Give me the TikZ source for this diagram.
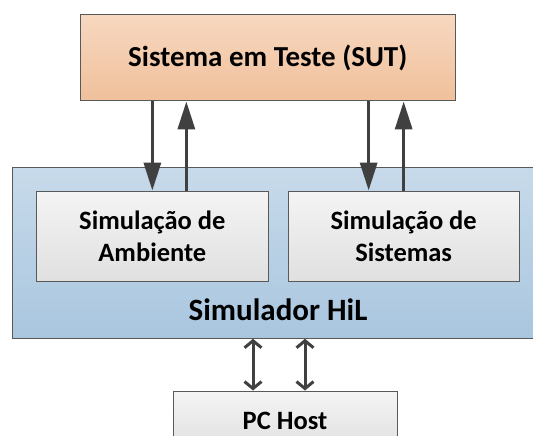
\documentclass[tikz,border=0pt]{standalone}
\usepackage{fontspec}
\setmainfont{Carlito}
\usetikzlibrary{arrows.meta}
\definecolor{sutA}{HTML}{F7D8C0}
\definecolor{sutB}{HTML}{F0C09B}
\definecolor{hilA}{HTML}{C7DAEA}
\definecolor{hilB}{HTML}{A9C6DF}
\definecolor{grayA}{HTML}{F4F4F4}
\definecolor{grayB}{HTML}{E0E0E0}
\definecolor{boxline}{HTML}{595959}
\definecolor{arrowgray}{HTML}{404040}
\begin{document}
\begin{tikzpicture}[x=1pt,y=-1pt,
    box/.style={draw=boxline, line width=1pt, inner sep=0pt, align=center,
      font=\bfseries\fontsize{26.5}{31.7}\selectfont},
    graybox/.style={box, top color=grayA, bottom color=grayB},
    big/.style={draw=arrowgray, line width=3.3pt,
      -{Triangle[length=28pt,width=17pt]}},
    dbl/.style={draw=arrowgray, line width=3pt,
      {Straight Barb[length=7pt,width=17pt]}-{Straight Barb[length=7pt,width=17pt]}}]
  \useasboundingbox (0,0) rectangle (533,436);
  \node[box, top color=sutA, bottom color=sutB, minimum width=374.4pt,
    minimum height=86.7pt, font=\bfseries\fontsize{29}{32}\selectfont]
    (sut) at (267.8,57.6) {Sistema em Teste (SUT)};
  \node[box, top color=hilA, bottom color=hilB, minimum width=540pt,
    minimum height=171pt] (hil) at (282.5,252.8) {};
  \node[graybox, minimum width=232.1pt, minimum height=90.7pt]
    (amb) at (152.35,236.35) {Simulação de\\Ambiente};
  \node[graybox, minimum width=231.3pt, minimum height=90.7pt]
    (sis) at (403.65,236.35) {Simulação de\\Sistemas};
  \node[anchor=base, inner sep=0pt, font=\bfseries\fontsize{31}{34}\selectfont]
    (hiltxt) at (278,320) {Simulador HiL};
  \node[graybox, minimum width=224pt, minimum height=59pt]
    (host) at (285,420.5) {PC Host};
  % ligacoes SUT <-> simulador
  \draw[big] (amb.north |- sut.south) -- (amb.north);
  \draw[big] ([xshift=34pt]amb.north) -- ([xshift=34pt]amb.north |- sut.south);
  \draw[big] ([xshift=-35pt]sis.north |- sut.south) -- ([xshift=-35pt]sis.north);
  \draw[big] (sis.north) -- (sis.north |- sut.south);
  % ligacoes host <-> simulador
  \draw[dbl] ([xshift=-32pt]host.north) -- ([xshift=-32pt]host.north |- hil.south);
  \draw[dbl] ([xshift=20pt]host.north) -- ([xshift=20pt]host.north |- hil.south);
\end{tikzpicture}
\end{document}
